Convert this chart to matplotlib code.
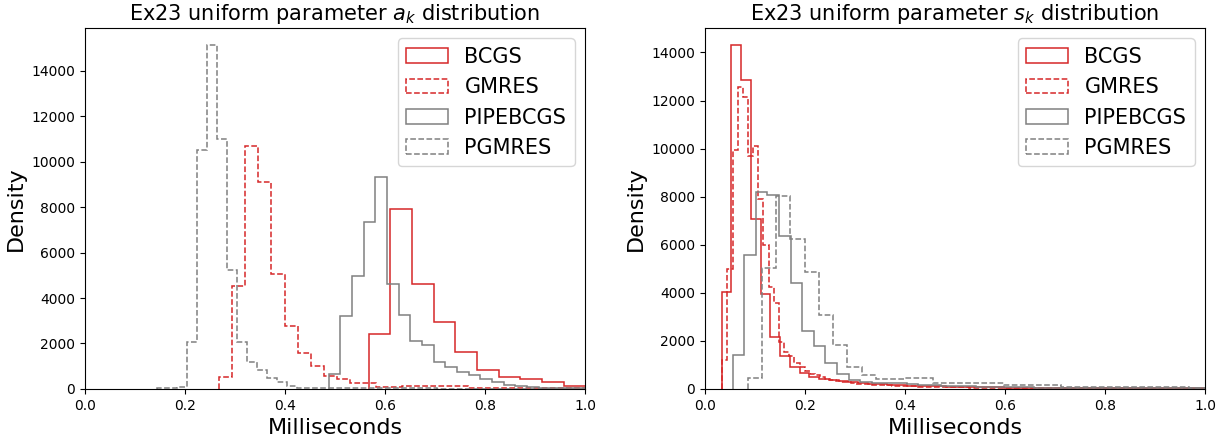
"""
Ex23 uniform parameter histograms (a_k and s_k) — step histograms, 2 panels.
"""
import numpy as np
import matplotlib
matplotlib.use("Agg")
import matplotlib.pyplot as plt

RED = "tab:red"
GRAY = "gray"

SOLVERS = ["BCGS", "GMRES", "PIPEBCGS", "PGMRES"]

# ─── a_k (left panel): bin start, bin width, bar heights ──────────────────────
a_bcgs_start, a_bcgs_width = 0.567, 0.0434
a_bcgs = [2410, 7910, 4630, 2940, 1620, 840, 540, 440, 300, 150]

a_gmres_start, a_gmres_width = 0.268, 0.0262
a_gmres = [540, 4550, 10700, 9090, 5050, 2790, 1570, 1000, 580, 430,
           280, 280, 100, 100, 150, 150, 150, 150, 150, 60,
           60, 60, 60, 30, 30, 20, 20, 20]

a_pipe_start, a_pipe_width = 0.487, 0.02335
a_pipe = [650, 3210, 4950, 7330, 9310, 4630, 3260, 2130, 1940, 1200,
          980, 760, 620, 430, 300, 180, 110, 70, 50, 40,
          30, 20]

a_pgmres_start, a_pgmres_width = 0.143, 0.02
a_pgmres = [50, 50, 100, 2080, 10530, 15120, 11000, 5240, 2080, 1200,
            840, 470, 300, 150, 60, 50, 40, 40, 30, 30,
            30, 30, 20, 20, 20, 20, 20, 20, 10, 10,
            10, 10, 10, 10, 10, 10, 10, 10, 10, 10,
            10, 10, 10]

# ─── s_k (right panel) ────────────────────────────────────────────────────────
s_bcgs_start, s_bcgs_width = 0.033, 0.0195
s_bcgs = [4030, 14300, 12850, 7070, 3940, 2180, 1350, 930, 650, 510,
          420, 360, 310, 270, 240, 210, 190, 170, 150, 140,
          130, 120, 110, 100, 90, 80, 80, 70, 70, 60,
          60, 50, 50, 50, 40, 40, 40, 40, 30, 30,
          30, 30, 30, 20, 20, 20, 20, 20, 20, 20]

s_gmres_start, s_gmres_width = 0.0345, 0.0103
s_gmres = [1210, 4990, 9960, 12570, 12150, 9680, 10125, 7900, 6000, 4260,
           3570, 1970, 1550, 1350, 1070, 900, 760, 640, 560, 500,
           430, 380, 340, 300, 270, 240, 220, 200, 190, 180,
           170, 160, 150, 140, 130, 120, 110, 110, 100, 100,
           90, 90, 80, 80, 80, 70, 70, 70, 60, 60,
           60, 50, 50, 50, 50, 40, 40, 40, 40, 40,
           30, 30, 30, 30, 30, 30, 30, 30, 20, 20,
           20, 20, 20, 20, 20, 20, 20, 20, 20, 20,
           10, 10, 10, 10, 10, 10, 10, 10, 10, 10,
           10, 10, 10, 10]

s_pipe_start, s_pipe_width = 0.055, 0.0232
s_pipe = [1420, 5580, 8190, 8080, 6350, 4400, 2420, 1780, 1070, 620,
          380, 300, 240, 240, 230, 220, 160, 150, 130, 120,
          110, 100, 90, 80, 80, 70, 60, 60, 50, 50,
          50, 40, 40, 40, 30, 30, 30, 30, 20, 20,
          20]

s_pgmres_start, s_pgmres_width = 0.085, 0.0285
s_pgmres = [470, 5030, 8040, 6240, 4860, 3060, 1830, 900, 600, 400,
            400, 440, 440, 260, 260, 260, 260, 260, 170, 170,
            170, 170, 100, 100, 100, 100, 100, 100, 100, 100,
            100, 60, 60]

STYLES = {
    "BCGS":     dict(color=RED,  linestyle="-"),
    "GMRES":    dict(color=RED,  linestyle="--"),
    "PIPEBCGS": dict(color=GRAY, linestyle="-"),
    "PGMRES":   dict(color=GRAY, linestyle="--"),
}


def _step_hist(ax, start, width, heights, name):
    edges = start + width * np.arange(len(heights) + 1)
    ax.hist(edges[:-1], bins=edges, weights=heights, histtype="step",
            linewidth=1.1, label=name, **STYLES[name])


fig, (ax1, ax2) = plt.subplots(1, 2, figsize=(12.25, 4.38), dpi=100)
fig.subplots_adjust(left=0.0694, right=0.9837, bottom=0.112, top=0.936, wspace=0.24)

panels = [
    (ax1, r"Ex23 uniform parameter $a_k$ distribution",
     [(a_bcgs_start, a_bcgs_width, a_bcgs),
      (a_gmres_start, a_gmres_width, a_gmres),
      (a_pipe_start, a_pipe_width, a_pipe),
      (a_pgmres_start, a_pgmres_width, a_pgmres)]),
    (ax2, r"Ex23 uniform parameter $s_k$ distribution",
     [(s_bcgs_start, s_bcgs_width, s_bcgs),
      (s_gmres_start, s_gmres_width, s_gmres),
      (s_pipe_start, s_pipe_width, s_pipe),
      (s_pgmres_start, s_pgmres_width, s_pgmres)]),
]

for ax, title, series in panels:
    for name, (start, width, heights) in zip(SOLVERS, series):
        _step_hist(ax, start, width, heights, name)
    ax.set_xlim(0, 1.0)
    ax.set_title(title, fontsize=15)
    ax.set_xlabel("Milliseconds", fontsize=16)
    ax.set_ylabel("Density", fontsize=16)
    ax.legend(loc="upper right", fontsize=15)

fig.savefig("out.png", dpi=100)
